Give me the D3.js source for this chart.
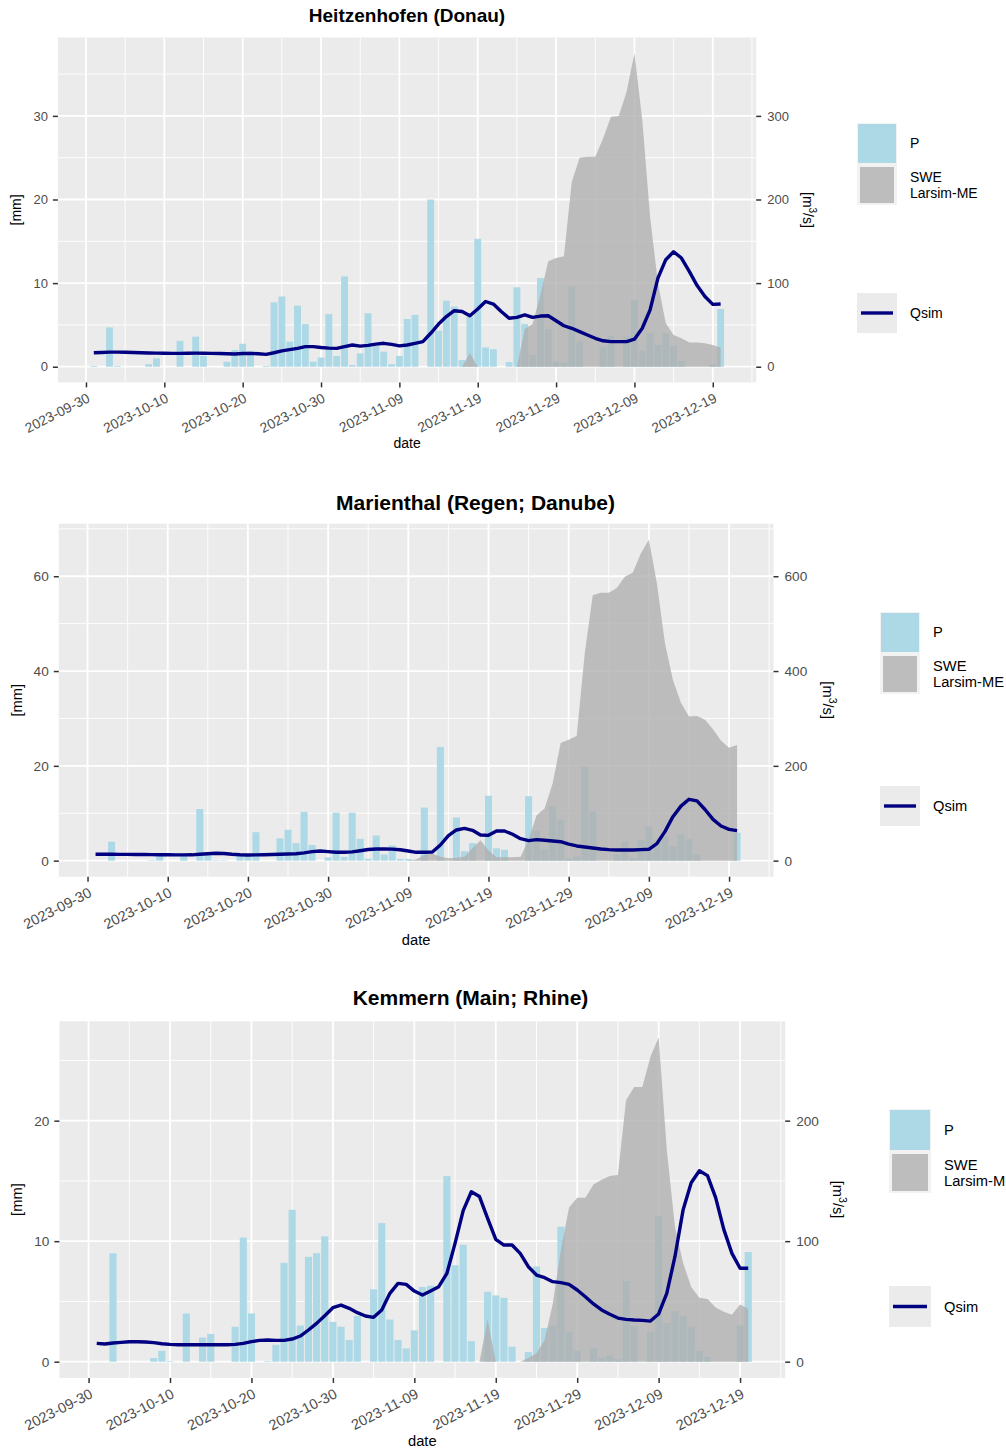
<!DOCTYPE html>
<html>
<head>
<meta charset="utf-8">
<script src="https://cdn.jsdelivr.net/npm/d3@7"></script>
<style>
  body { margin: 0; background: #fff; }
  svg text { font-family: "Liberation Sans", Arial, Helvetica, sans-serif; }
</style>
</head>
<body>
<svg width="1006" height="1452"></svg>
<script>
// daily values from 2023-10-01 to 2023-12-20
const startDate = "2023-10-01";
const tickLabels = ["2023-09-30", "2023-10-10", "2023-10-20", "2023-10-30", "2023-11-09",
  "2023-11-19", "2023-11-29", "2023-12-09", "2023-12-19"];
const legendNames = ["P", "SWE\nLarsim-ME", "Qsim"];

// Heitzenhofen (Donau)
const heitzP = [0.1, 0, 4.7, 0.1, 0, 0, 0, 0.3, 1.0, 0, 0, 3.1, 0, 3.6, 1.3, 0, 0, 0.6, 2.0, 2.75,
  1.9, 0, 0.1, 7.7, 8.4, 3.0, 7.3, 5.1, 0.6, 1.1, 6.3, 1.3, 10.8, 0.2, 1.6, 6.4, 2.5, 1.8, 0.3, 1.3,
  5.7, 6.2, 0, 20.0, 4.3, 7.9, 7.2, 0.8, 6.0, 15.3, 2.3, 2.1, 0, 0.55, 9.5, 5.1, 1.4, 10.6, 4.5, 0.6,
  0.5, 9.6, 3.0, 0, 0, 2.4, 3.7, 0, 3.6, 8.0, 1.9, 4.0, 2.6, 4.0, 2.5, 0.7, 0, 0, 0, 0.3, 6.9];
const heitzSWE = [0, 0, 0, 0, 0, 0, 0, 0, 0, 0, 0, 0, 0, 0, 0, 0, 0, 0, 0, 0,
  0, 0, 0, 0, 0, 0, 0, 0, 0, 0, 0, 0, 0, 0, 0, 0, 0, 0, 0, 0,
  0, 0, 0, 0, 0, 0, 0, 0, 1.6, 0, 0, 0, 0, 0, 0, 4.5, 5.1, 8.6, 12.6, 13.0,
  13.2, 22.1, 25.0, 25.1, 25.1, 27.3, 29.9, 30.0, 32.9, 37.5, 29.5, 17.9, 10.0, 5.2, 3.8, 3.4, 2.9, 2.9, 2.8, 2.6, 2.3];
const heitzQ = [16.7, 17.0, 17.5, 17.5, 17.3, 17.0, 16.8, 16.5, 16.3, 16.2, 16.0,
  16.0, 16.2, 16.3, 16.2, 16.0, 15.8, 15.5, 15.2, 15.8, 16.0,
  15.5, 14.8, 16.7, 19.0, 20.5, 22.0, 24.0, 24.0, 23.0, 22.3,
  22.0, 24.0, 26.0, 24.7, 25.5, 27.0, 28.0, 26.7, 25.0, 26.0,
  28.0, 30.0, 40.0, 51.0, 60.0, 67.0, 66.0, 61.0, 69.0, 78.0,
  75.0, 66.0, 58.0, 59.0, 62.0, 59.0, 60.6, 61.0, 55.0, 49.0,
  46.0, 42.0, 38.0, 34.0, 31.0, 30.0, 30.0, 30.0, 33.0, 46.0,
  68.0, 106.0, 128.0, 137.5, 130.0, 114.0, 97.0, 84.0, 74.6, 75.0];

// Marienthal (Regen; Danube)
const marienP = [0, 0, 4.0, 0, 0, 0, 0, 0.1, 1.0, 0, 0, 1.0, 0, 10.9, 1.2, 0.1, 0.1, 0, 1.2, 1.2,
  6.0, 0, 0, 4.7, 6.5, 3.7, 10.3, 3.3, 0, 0.7, 10.1, 0.8, 10.1, 4.6, 0.4, 5.3, 1.3, 3.2, 0.35, 0.35,
  0, 11.2, 0, 24.0, 0, 9.1, 2.0, 3.7, 0, 13.7, 2.6, 2.3, 0, 0, 13.6, 6.3, 2.3, 11.5, 8.6, 0.4,
  0.85, 19.8, 10.4, 0, 0, 1.3, 4.0, 0.6, 4.4, 7.2, 4.4, 5.1, 3.1, 5.5, 4.5, 1.3, 0, 0, 0, 0, 5.9];
const marienSWE = [0, 0, 0, 0, 0, 0, 0, 0, 0, 0, 0, 0, 0, 0, 0, 0, 0, 0, 0, 0,
  0, 0, 0, 0, 0, 0, 0, 0, 0, 0, 0, 0, 0, 0, 0, 0, 0, 0, 0, 0,
  0.3, 1.2, 1.5, 0.8, 0.5, 0.6, 0.8, 2.6, 4.3, 2.2, 0.7, 0.7, 0.7, 0.8, 4.4, 9.6, 11.0, 16.3, 24.8, 25.5,
  26.3, 43.7, 56.0, 56.5, 56.5, 57.5, 59.9, 60.8, 64.8, 67.7, 58.5, 45.9, 38.1, 33.3, 30.4, 30.5, 29.7, 27.7, 25.3, 23.8, 24.4];
const marienQ = [13.4, 13.4, 13.4, 13.3, 13.2, 13.1, 13.0, 12.8, 12.6, 12.4, 12.2,
  12.2, 12.3, 13.5, 14.5, 15.5, 15.0, 13.5, 12.5, 12.0, 12.2,
  12.5, 13.0, 13.5, 14.0, 14.5, 16.5, 19.0, 20.4, 19.0, 17.6,
  17.6, 18.5, 21.0, 23.5, 24.6, 24.8, 24.4, 23.0, 20.4, 17.6,
  17.6, 18.3, 33.0, 52.7, 64.7, 68.2, 64.0, 54.0, 53.4, 62.6,
  62.6, 55.6, 46.4, 42.2, 44.3, 43.0, 41.5, 40.0, 35.0, 31.0,
  28.8, 26.7, 24.6, 23.2, 22.5, 22.5, 22.5, 23.2, 24.0, 35.9,
  61.2, 92.8, 115.0, 129.4, 126.0, 108.0, 87.0, 73.0, 66.0, 63.3];

// Kemmern (Main; Rhine)
const kemmP = [0, 0, 9.0, 0, 0, 0, 0, 0.3, 0.9, 0.05, 0, 4.0, 0, 2.0, 2.3, 0, 0, 2.9, 10.3, 4.0,
  0, 0.05, 1.4, 8.2, 12.6, 3.0, 8.7, 9.0, 10.4, 3.3, 2.9, 1.8, 3.8, 0, 6.0, 11.5, 3.5, 1.8, 1.1, 2.6,
  6.2, 6.3, 0, 15.4, 8.0, 9.7, 1.7, 0, 5.8, 5.5, 5.3, 1.25, 0, 0.8, 7.9, 2.8, 3.0, 11.2, 2.5, 0.9,
  0, 1.1, 0.3, 0.5, 0.2, 6.7, 3.0, 0, 2.5, 12.1, 3.2, 4.2, 3.8, 2.9, 0.9, 0.4, 0, 0, 0, 3.0, 9.1];
const kemmSWE = [0, 0, 0, 0, 0, 0, 0, 0, 0, 0, 0, 0, 0, 0, 0, 0, 0, 0, 0, 0,
  0, 0, 0, 0, 0, 0, 0, 0, 0, 0, 0, 0, 0, 0, 0, 0, 0, 0, 0, 0,
  0, 0, 0, 0, 0, 0, 0, 0, 3.5, 0, 0, 0, 0, 0.3, 0.7, 1.8, 4.8, 9.3, 12.8, 13.6,
  13.6, 14.7, 15.1, 15.4, 15.5, 21.7, 22.8, 22.8, 25.3, 26.9, 17.6, 11.2, 8.2, 6.2, 5.3, 5.2, 4.5, 4.15, 3.9, 4.75, 4.4];
const kemmQ = [15.2, 14.7, 15.5, 16.0, 16.6, 16.6, 16.3, 15.8, 14.9, 14.4, 14.1,
  14.1, 14.1, 14.1, 14.1, 14.1, 14.1, 14.4, 15.2, 16.6, 17.7,
  18.0, 17.7, 17.7, 18.8, 21.3, 26.3, 31.8, 38.2, 44.8, 47.0,
  44.3, 40.7, 37.9, 36.8, 42.9, 56.7, 65.0, 64.2, 58.6, 55.3,
  58.6, 62.2, 73.3, 98.2, 125.3, 141.0, 137.0, 119.0, 101.5, 96.8,
  96.8, 89.9, 78.8, 71.9, 69.7, 66.4, 65.6, 64.2, 59.5, 53.9,
  47.9, 42.9, 39.3, 36.2, 35.1, 34.6, 34.3, 33.7, 39.6, 56.7,
  87.1, 125.8, 148.5, 158.5, 154.4, 136.1, 109.8, 89.9, 77.5, 77.5];

const stations = [
  { title: "Heitzenhofen (Donau)", p: heitzP, swe: heitzSWE, q: heitzQ },
  { title: "Marienthal (Regen; Danube)", p: marienP, swe: marienSWE, q: marienQ },
  { title: "Kemmern (Main; Rhine)", p: kemmP, swe: kemmSWE, q: kemmQ }
];

// page layout of the three plots
const frames = [
  { left: 57.9, right: 756.2, top: 37.5, bottom: 382.4, titleX: 407, titleY: 22, titleSize: 19, fs: 1,
    ylabL: 21, ylabR: 803, xlabY: 448, legX: 857, legY: 123, legQ: 293, keyW: 40, keyH: 40, labX: 910 },
  { left: 58.8, right: 773.5, top: 523.7, bottom: 876.7, titleX: 475.5, titleY: 510, titleSize: 21, fs: 1.05,
    ylabL: 22, ylabR: 823, xlabY: 945, legX: 880, legY: 612, legQ: 786, keyW: 40, keyH: 40, labX: 933 },
  { left: 59.4, right: 785.2, top: 1021.3, bottom: 1377.9, titleX: 470.5, titleY: 1005, titleSize: 21, fs: 1.05,
    ylabL: 22, ylabR: 833, xlabY: 1446, legX: 889, legY: 1109, legQ: 1286, keyW: 42, keyH: 41, labX: 944 }
];

const parseDay = d3.utcParse("%Y-%m-%d");
const svg = d3.select("svg");

function drawPanel(st, fr) {
  const dates = st.p.map((v, i) => d3.utcDay.offset(parseDay(startDate), i));
  const g = svg.append("g");
  const fs = fr.fs;

  const x = d3.scaleUtc()
    .domain([d3.utcHour.offset(dates[0], -4.55 * 24), d3.utcHour.offset(dates[dates.length - 1], 4.55 * 24)])
    .range([fr.left, fr.right]);
  const maxV = d3.max([d3.max(st.p), d3.max(st.swe), d3.max(st.q) / 10]);
  const y = d3.scaleLinear().domain([-0.05 * maxV, 1.05 * maxV]).range([fr.bottom, fr.top]);
  const yR = d3.scaleLinear().domain(y.domain().map(d => d * 10)).range([fr.bottom, fr.top]);

  // panel + grid
  g.append("rect").attr("x", fr.left).attr("y", fr.top)
    .attr("width", fr.right - fr.left).attr("height", fr.bottom - fr.top).attr("fill", "#EBEBEB");

  const yMajor = y.ticks(4);
  const step = yMajor[1] - yMajor[0];
  const yMinor = [yMajor[0] - step / 2].concat(yMajor.map(v => v + step / 2))
    .filter(v => v > y.domain()[0] && v < y.domain()[1]);
  const xMajor = tickLabels.map(parseDay);
  const xMinor = [d3.utcDay.offset(xMajor[0], -5)].concat(xMajor.map(d => d3.utcDay.offset(d, 5)))
    .filter(d => d > x.domain()[0] && d < x.domain()[1]);

  g.selectAll("line.ymin").data(yMinor).join("line")
    .attr("x1", fr.left).attr("x2", fr.right).attr("y1", d => y(d)).attr("y2", d => y(d))
    .attr("stroke", "#fff").attr("stroke-width", 0.9);
  g.selectAll("line.xmin").data(xMinor).join("line")
    .attr("y1", fr.top).attr("y2", fr.bottom).attr("x1", d => x(d)).attr("x2", d => x(d))
    .attr("stroke", "#fff").attr("stroke-width", 0.9);
  g.selectAll("line.ymaj").data(yMajor).join("line")
    .attr("x1", fr.left).attr("x2", fr.right).attr("y1", d => y(d)).attr("y2", d => y(d))
    .attr("stroke", "#fff").attr("stroke-width", 1.8);
  g.selectAll("line.xmaj").data(xMajor).join("line")
    .attr("y1", fr.top).attr("y2", fr.bottom).attr("x1", d => x(d)).attr("x2", d => x(d))
    .attr("stroke", "#fff").attr("stroke-width", 1.8);

  // P bars
  const barW = x(d3.utcHour.offset(dates[0], 0.9 * 24)) - x(dates[0]);
  g.selectAll("rect.bar").data(st.p).join("rect")
    .attr("x", (d, i) => x(dates[i]) - barW / 2)
    .attr("y", d => y(d))
    .attr("width", barW)
    .attr("height", d => y(0) - y(d))
    .attr("fill", "#ADD8E6");

  // SWE area
  const area = d3.area()
    .x((d, i) => x(dates[i]))
    .y0(y(0))
    .y1(d => y(d));
  g.append("path").datum(st.swe).attr("d", area)
    .attr("fill", "#AEAEAE").attr("fill-opacity", 0.78);

  // Qsim line (secondary axis, m3/s)
  const line = d3.line().x((d, i) => x(dates[i])).y(d => yR(d));
  g.append("path").datum(st.q).attr("d", line)
    .attr("fill", "none").attr("stroke", "#000080").attr("stroke-width", 3.4)
    .attr("stroke-linejoin", "round");

  // axes
  const tickFont = 13 * fs;
  const styleAxis = sel => {
    sel.select(".domain").remove();
    sel.selectAll(".tick line").attr("stroke", "#333333").attr("stroke-width", 1.5);
    sel.selectAll(".tick text").attr("fill", "#4D4D4D").style("font-size", tickFont + "px");
  };
  g.append("g").attr("transform", `translate(0,${fr.bottom})`)
    .call(d3.axisBottom(x).tickValues(xMajor).tickFormat(d3.utcFormat("%Y-%m-%d")).tickSize(5))
    .call(styleAxis)
    .call(s => s.selectAll(".tick text")
      .style("font-size", 13.8 * fs + "px")
      .attr("y", 0).attr("x", 0).attr("dy", "0.71em")
      .attr("transform", "translate(0,10) rotate(-27)")
      .style("text-anchor", "end"));
  g.append("g").attr("transform", `translate(${fr.left},0)`)
    .call(d3.axisLeft(y).tickValues(yMajor).tickSize(5).tickPadding(5))
    .call(styleAxis);
  g.append("g").attr("transform", `translate(${fr.right},0)`)
    .call(d3.axisRight(yR).tickValues(yMajor.map(v => v * 10)).tickSize(5).tickPadding(6))
    .call(styleAxis);

  // titles
  const midY = (fr.top + fr.bottom) / 2;
  g.append("text").attr("x", fr.titleX).attr("y", fr.titleY).attr("text-anchor", "middle")
    .style("font-size", fr.titleSize + "px").style("font-weight", "bold").text(st.title);
  g.append("text").attr("x", (fr.left + fr.right) / 2).attr("y", fr.xlabY).attr("text-anchor", "middle")
    .style("font-size", 14 * fs + "px").text("date");
  g.append("text").attr("transform", `translate(${fr.ylabL},${midY}) rotate(-90)`)
    .attr("text-anchor", "middle").style("font-size", 14 * fs + "px").text("[mm]");
  const rl = g.append("text").attr("transform", `translate(${fr.ylabR},${midY}) rotate(90)`)
    .attr("text-anchor", "middle").style("font-size", 14 * fs + "px");
  rl.append("tspan").text("[m");
  rl.append("tspan").attr("dy", -6 * fs).style("font-size", 10 * fs + "px").text("3");
  rl.append("tspan").attr("dy", 6 * fs).text("/s]");

  // legend
  const lg = g.append("g");
  const lfs = 14 * fs;
  lg.append("rect").attr("x", fr.legX).attr("y", fr.legY).attr("width", fr.keyW).attr("height", fr.keyH * 2 + 2)
    .attr("fill", "#F2F2F2");
  lg.append("rect").attr("x", fr.legX + 1).attr("y", fr.legY + 1).attr("width", fr.keyW - 2).attr("height", fr.keyH - 1)
    .attr("fill", "#ADD8E6");
  lg.append("rect").attr("x", fr.legX + 3).attr("y", fr.legY + fr.keyH + 4).attr("width", fr.keyW - 6).attr("height", fr.keyH - 4)
    .attr("fill", "#AEAEAE").attr("fill-opacity", 0.78);
  lg.append("rect").attr("x", fr.legX).attr("y", fr.legQ).attr("width", fr.keyW).attr("height", fr.keyH)
    .attr("fill", "#EBEBEB");
  lg.append("line").attr("x1", fr.legX + 4).attr("x2", fr.legX + fr.keyW - 4)
    .attr("y1", fr.legQ + fr.keyH / 2).attr("y2", fr.legQ + fr.keyH / 2)
    .attr("stroke", "#000080").attr("stroke-width", 3.4);

  lg.append("text").attr("x", fr.labX).attr("y", fr.legY + fr.keyH / 2 + lfs * 0.36)
    .style("font-size", lfs + "px").text(legendNames[0]);
  const sweLines = legendNames[1].split("\n");
  lg.selectAll("text.swe").data(sweLines).join("text")
    .attr("x", fr.labX)
    .attr("y", (d, i) => fr.legY + fr.keyH * 1.5 + 2 + (i - 0.5) * lfs * 1.1 + lfs * 0.36)
    .style("font-size", lfs + "px").text(d => d);
  lg.append("text").attr("x", fr.labX).attr("y", fr.legQ + fr.keyH / 2 + lfs * 0.36)
    .style("font-size", lfs + "px").text(legendNames[2]);
}

stations.forEach((st, k) => drawPanel(st, frames[k]));
</script>
</body>
</html>
